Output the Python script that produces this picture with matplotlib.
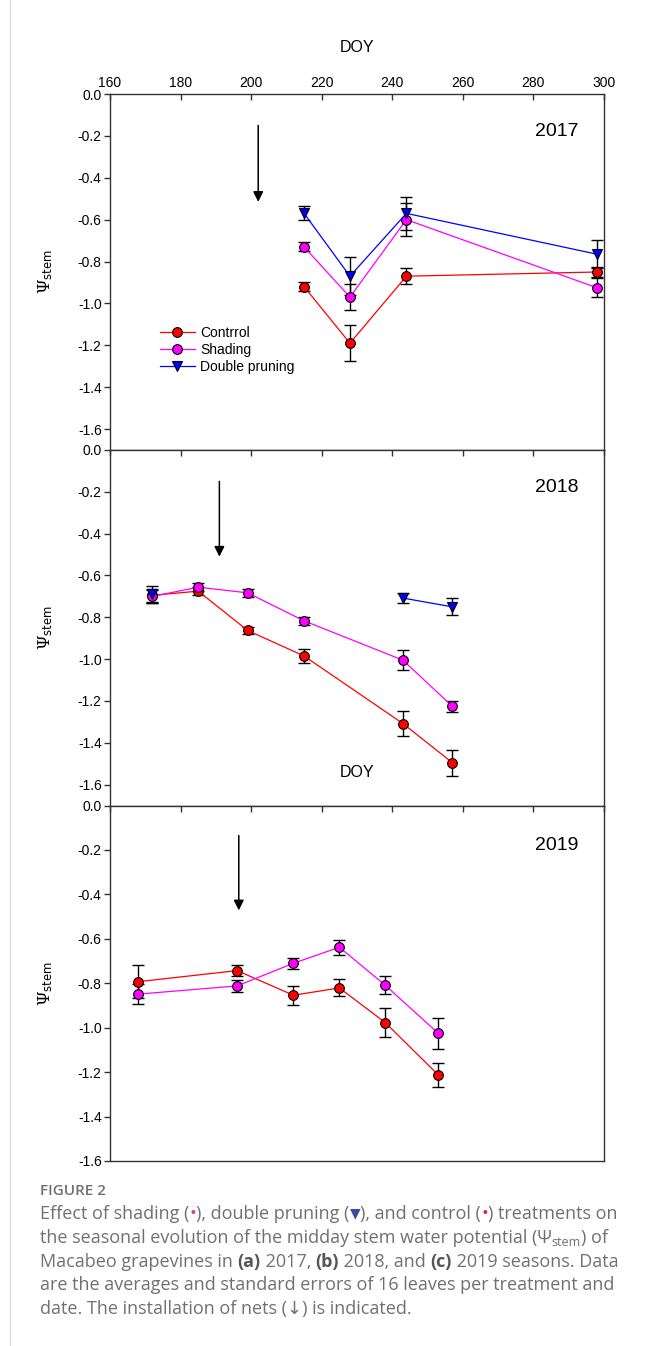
import numpy as np
import matplotlib
matplotlib.use("Agg")
import matplotlib.pyplot as plt
from matplotlib.lines import Line2D

plt.rcParams['font.family'] = ['Liberation Sans', 'DejaVu Sans']
plt.rcParams['axes.unicode_minus'] = False
plt.rcParams['mathtext.fontset'] = 'dejavuserif'

# ---- data (DOY, mean, standard error) ----
doy17 = [215, 228, 244, 298]
ctrl17 = [-0.92, -1.19, -0.87, -0.85]
ctrl17_se = [0.022, 0.087, 0.037, 0.025]
shad17 = [-0.73, -0.97, -0.60, -0.925]
shad17_se = [0.021, 0.063, 0.08, 0.046]
dp17 = [-0.57, -0.87, -0.57, -0.765]
dp17_se = [0.033, 0.09, 0.08, 0.068]

doy18 = [172, 185, 199, 215, 243, 257]
ctrl18 = [-0.695, -0.675, -0.863, -0.985, -1.308, -1.495]
ctrl18_se = [0.03, 0.018, 0.018, 0.032, 0.058, 0.062]
shad18 = [-0.70, -0.656, -0.683, -0.817, -1.005, -1.225]
shad18_se = [0.03, 0.02, 0.02, 0.02, 0.048, 0.026]
dp18 = [-0.69, np.nan, np.nan, np.nan, -0.708, -0.75]
dp18_se = [0.04, np.nan, np.nan, np.nan, 0.025, 0.04]

doy19 = [168, 196, 212, 225, 238, 253]
ctrl19 = [-0.793, -0.743, -0.854, -0.821, -0.977, -1.212]
ctrl19_se = [0.075, 0.025, 0.043, 0.038, 0.064, 0.055]
shad19 = [-0.849, -0.812, -0.710, -0.638, -0.809, -1.025]
shad19_se = [0.045, 0.028, 0.025, 0.034, 0.041, 0.07]

years = ['2017', '2018', '2019']
net_doy = [202, 191, 196.5]          # installation of nets (arrow)
arrow_top = [-0.15, -0.15, -0.135]
arrow_tip = [-0.515, -0.51, -0.472]
ylims = [-1.7, -1.7, -1.6]
xticks = [160, 180, 200, 220, 240, 260, 280, 300]
yticks = [0.0, -0.2, -0.4, -0.6, -0.8, -1.0, -1.2, -1.4, -1.6]
labels = ['Contrrol', 'Shading', 'Double pruning']

RED, MAG, BLUE = '#ff0000', '#ff00ff', '#0000ff'
SPINE = '#333333'

W, H = 646, 1346
fig = plt.figure(figsize=(W / 100, H / 100), dpi=100)

# panel geometry in pixels (top, bottom)
panels_px = [(94, 450), (450, 805.5), (805.5, 1161)]
left_px, right_px = 110, 604

def series(ax, x, y, se, color, marker, label):
    ax.errorbar(x, y, yerr=se, fmt='none', ecolor='black', elinewidth=1.0,
                capsize=4, capthick=1.0, zorder=2)
    ax.plot(x, y, color=color, lw=0.9, marker=marker, markersize=7,
            markerfacecolor=color, markeredgecolor='black', markeredgewidth=0.8,
            label=label, zorder=3)

data = [
    (doy17, [(ctrl17, ctrl17_se), (shad17, shad17_se), (dp17, dp17_se)]),
    (doy18, [(ctrl18, ctrl18_se), (shad18, shad18_se), (dp18, dp18_se)]),
    (doy19, [(ctrl19, ctrl19_se), (shad19, shad19_se)]),
]
styles = [(RED, 'o'), (MAG, 'o'), (BLUE, 'v')]

axes = []
for i, (top, bot) in enumerate(panels_px):
    ax = fig.add_axes([left_px / W, (H - bot) / H, (right_px - left_px) / W, (bot - top) / H])
    axes.append(ax)
    x, groups = data[i]
    for (y, se), (c, m), lab in zip(groups, styles, labels):
        series(ax, x, y, se, c, m, lab)

    ax.set_xlim(160, 300)
    ax.set_ylim(ylims[i], 0)
    ax.set_yticks(yticks)
    ax.set_yticklabels([f'{v:.1f}' for v in yticks])
    ax.set_xticks(xticks)
    ax.xaxis.tick_top()
    ax.tick_params(axis='x', direction='in', length=4, width=1, color=SPINE,
                   labeltop=(i == 0), labelbottom=False, bottom=False,
                   labelsize=10, pad=3)
    ax.tick_params(axis='y', direction='out', length=4, width=1, color=SPINE,
                   labelsize=10, pad=2)
    for s in ax.spines.values():
        s.set_color(SPINE)
        s.set_linewidth(1.0)

    ax.set_ylabel(r'$\Psi_{\mathsf{stem}}$', fontsize=12)
    ax.yaxis.set_label_coords((55 - left_px) / (right_px - left_px), 0.5)

    ax.text(286.5, -0.18, years[i], fontsize=14, ha='center', va='center')
    ax.annotate('', xy=(net_doy[i], arrow_tip[i]), xytext=(net_doy[i], arrow_top[i]),
                arrowprops=dict(arrowstyle='-|>', color='black', lw=1.1,
                                mutation_scale=15, shrinkA=0, shrinkB=0))

# top DOY label and the stray one in panel 2
axes[0].text(0.5, (450 - 48) / 356, 'DOY', transform=axes[0].transAxes,
             ha='center', va='center', fontsize=11.5)
axes[1].text(230, -1.54, 'DOY', ha='center', va='center', fontsize=11.5)

axes[0].legend(loc='upper left', bbox_to_anchor=((160 - left_px) / (right_px - left_px), (450 - 326) / 356),
               frameon=False, fontsize=10, handlelength=2.5, handletextpad=0.4,
               labelspacing=0.2, borderpad=0, borderaxespad=0)

# ---- caption ----
fig.add_artist(Line2D([9.5 / W, 9.5 / W], [0, 1], color='#dddddd', lw=1))

GREY = '#707070'
fam = ['Open Sans', 'DejaVu Sans']
fig.text(40 / W, 1 - 1191 / H, 'FIGURE 2', fontsize=11, color=GREY,
         family=fam, fontweight='semibold', va='center')

fig.canvas.draw()
rend = fig.canvas.get_renderer()
cap_size = 13

def seg_width(txt, fs, weight):
    a = fig.text(0, 0, 'X' + txt + 'X', fontsize=fs, family=fam, fontweight=weight)
    b = fig.text(0, 0, 'XX', fontsize=fs, family=fam, fontweight=weight)
    w = a.get_window_extent(rend).width - b.get_window_extent(rend).width
    a.remove(); b.remove()
    return w

def put_line(segments, y_px):
    x = 40.0
    for txt, kw in segments:
        fs = kw.get('fontsize', cap_size)
        weight = kw.get('fontweight', 'normal')
        fig.text(x / W, 1 - (y_px + kw.get('dy', 0)) / H, txt, fontsize=fs, family=fam,
                 color=kw.get('color', GREY), fontweight=weight, va='center')
        x += seg_width(txt, fs, weight)

B = dict(fontweight='bold', color='#555555')
put_line([('Effect of shading (', {}), ('•', dict(color='#d0409a')), ('), double pruning (', {}),
          ('▼', dict(color='#3a4a9c', fontsize=10)), ('), and control (', {}),
          ('•', dict(color='#e0202a')), (') treatments on', {})], 1214)
put_line([('the seasonal evolution of the midday stem water potential (Ψ', {}),
          ('stem', dict(fontsize=9, dy=4)), (') of', {})], 1238)
put_line([('Macabeo grapevines in ', {}), ('(a)', B), (' 2017, ', {}), ('(b)', B),
          (' 2018, and ', {}), ('(c)', B), (' 2019 seasons. Data', {})], 1262)
put_line([('are the averages and standard errors of 16 leaves per treatment and', {})], 1285.5)
put_line([('date. The installation of nets (↓) is indicated.', {})], 1309)

fig.savefig('out.png', dpi=100)
